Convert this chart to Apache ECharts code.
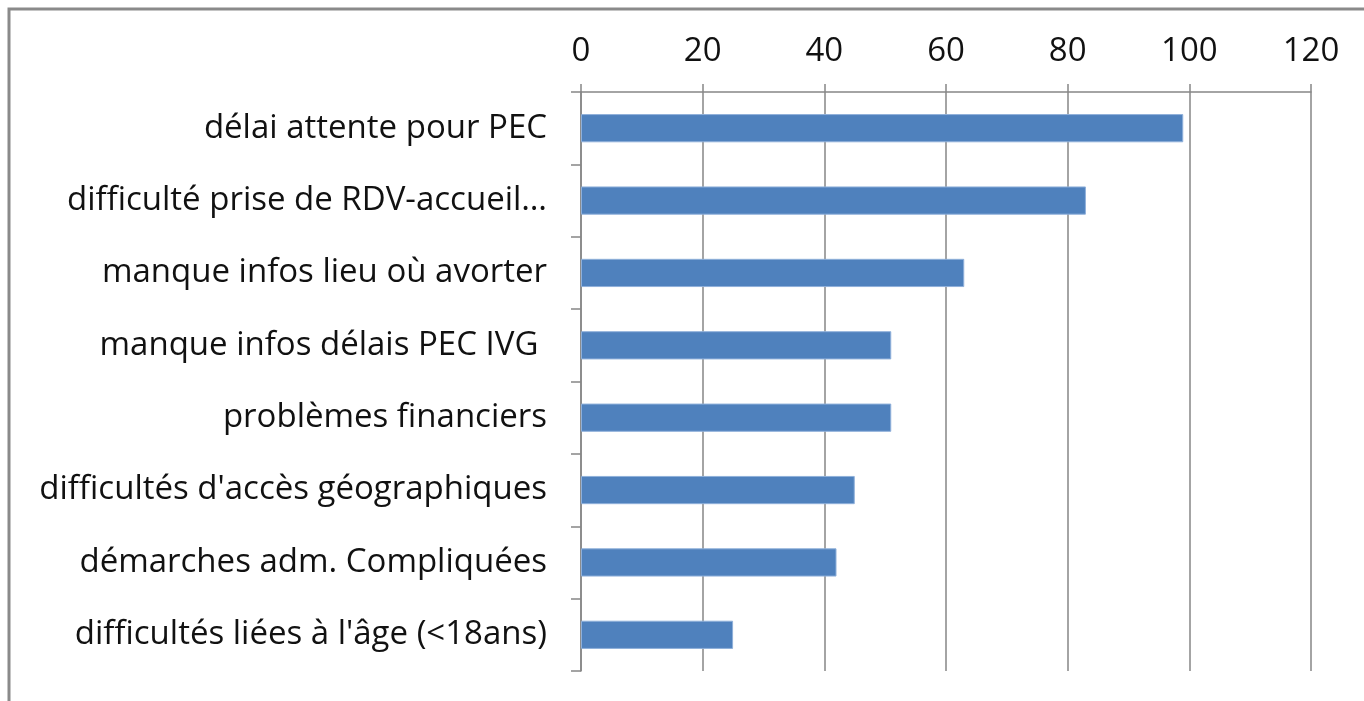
<!DOCTYPE html>
<html>
<head>
<meta charset="utf-8">
<script src="https://cdn.jsdelivr.net/npm/echarts@6/dist/echarts.min.js"></script>
<style>
  html, body { margin: 0; padding: 0; background: #fff; }
  #chart { width: 1364px; height: 701px; }
</style>
</head>
<body>
<div id="chart"></div>
<script>
// catégories, de haut en bas
const categories = [
  'délai attente pour PEC',
  'difficulté prise de RDV-accueil…',
  'manque infos lieu où avorter',
  'manque infos délais PEC IVG ',
  'problèmes financiers',
  "difficultés d'accès géographiques",
  'démarches adm. Compliquées',
  "difficultés liées à l'âge (<18ans)"
]
const values = [99, 83, 63, 51, 51, 45, 42, 25]
const xMin = 0
const xMax = 120
const xStep = 20

const chart = echarts.init(document.getElementById('chart'))
const font = 'Open Sans'
const option = {
  animation: false,
  backgroundColor: '#ffffff',
  graphic: [
    {
      type: 'rect',
      shape: { x: 9, y: 9, width: 1400, height: 800 },
      style: { fill: 'none', stroke: '#8a8a8a', lineWidth: 3 },
      silent: true
    }
  ],
  grid: {
    left: 581,
    right: 53,
    top: 92,
    bottom: 30,
    containLabel: false
  },
  xAxis: {
    type: 'value',
    position: 'top',
    min: xMin,
    max: xMax,
    interval: xStep,
    axisLine: { show: true, lineStyle: { color: '#868686', width: 1.5 } },
    axisTick: { show: true, length: 8, lineStyle: { color: '#868686', width: 1.5 } },
    splitLine: { show: true, lineStyle: { color: '#868686', width: 1.5 } },
    axisLabel: {
      color: '#111',
      fontFamily: font,
      fontSize: 33,
      margin: 24
    }
  },
  yAxis: {
    type: 'category',
    data: categories,
    inverse: true,
    axisLine: { show: true, lineStyle: { color: '#868686', width: 1.5 } },
    axisTick: { show: true, length: 10, lineStyle: { color: '#868686', width: 1.5 } },
    axisLabel: {
      color: '#111',
      fontFamily: font,
      fontSize: 33,
      margin: 34
    }
  },
  series: [
    {
      type: 'bar',
      data: values,
      barWidth: '39%',
      itemStyle: {
        color: '#4f81bd',
        borderColor: '#8fb0da',
        borderWidth: 1
      }
    }
  ]
}
chart.setOption(option)
</script>
</body>
</html>
